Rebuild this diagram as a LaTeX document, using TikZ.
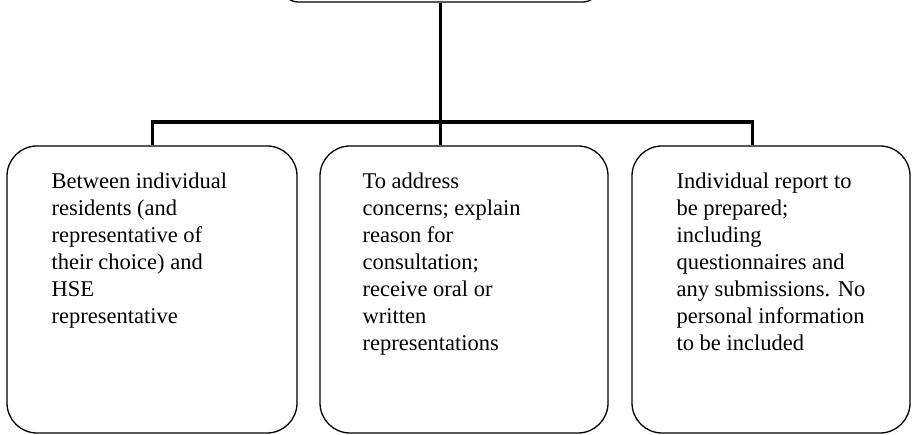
\documentclass[tikz,border=0pt]{standalone}
\usepackage{fontspec}
\setmainfont{Liberation Serif}
\begin{document}
\begin{tikzpicture}[x=1pt,y=1pt,
  card/.style={draw=black, line width=1.3pt, rounded corners=30pt, inner sep=0pt},
  cardtext/.style={anchor=north west, inner sep=0pt, align=left,
    font=\fontsize{22.5}{27}\selectfont},
  trunk/.style={draw=black, line width=3pt},
  bus/.style={draw=black, line width=4pt}]
\useasboundingbox (0,0) rectangle (912,435);
\begin{scope}
\clip (0,0) rectangle (912,435);
% head box, only its lower edge lies inside the page
\node[card, rounded corners=15pt, minimum width=315pt, minimum height=60pt] (head) at (440.5,463) {};
\end{scope}
% the three cards
\node[card, minimum width=290pt, minimum height=287pt] (c1) at (152,145.5) {};
\node[card, minimum width=288pt, minimum height=287pt] (c2) at (464,145.5) {};
\node[card, minimum width=278pt, minimum height=287pt] (c3) at (771,145.5) {};
% card texts
\node[cardtext] (t1) at ([xshift=45pt,yshift=-27pt]c1.north west)
  {Between individual\\residents (and\\representative of\\their choice) and\\HSE\\representative};
\node[cardtext] (t2) at ([xshift=43pt,yshift=-27pt]c2.north west)
  {To address\\concerns; explain\\reason for\\consultation;\\receive oral or\\written\\representations};
\node[cardtext] (t3) at ([xshift=45pt,yshift=-27pt]c3.north west)
  {Individual report to\\be prepared;\\including\\questionnaires and\\any submissions. No\\personal information\\to be included};
% connectors
\coordinate (bl) at (152,313);
\coordinate (bm) at (440.5,313);
\coordinate (br) at (752,313);
\draw[trunk] (head.south) -- (bm);
\draw[bus] ([xshift=-1.5pt]bl) -- ([xshift=1.5pt]br);
\draw[trunk] ([yshift=2pt]bl) -- (bl |- c1.north);
\draw[trunk] (bm) -- (bm |- c2.north);
\draw[trunk] ([yshift=2pt]br) -- (br |- c3.north);
\end{tikzpicture}
\end{document}
